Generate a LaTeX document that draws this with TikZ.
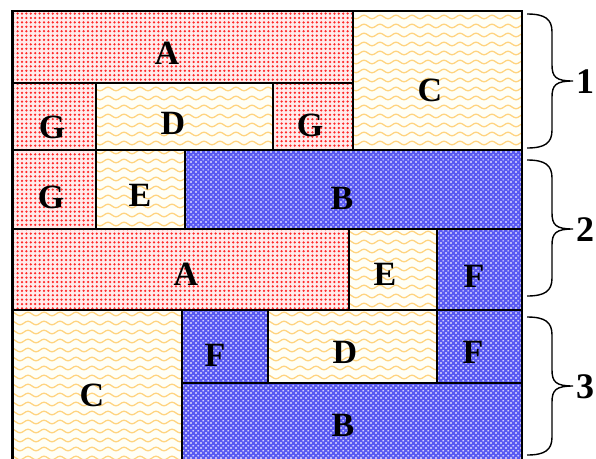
\documentclass[tikz,border=0pt]{standalone}
\usepackage{fontspec}
\setmainfont{Liberation Serif}
\usetikzlibrary{patterns.meta}
\definecolor{wavecol}{RGB}{255,212,128}
\definecolor{bluebg}{RGB}{88,88,242}
\tikzdeclarepattern{
  name=reddots, type=uncolored,
  bottom left={(-2.2pt,-2.2pt)}, top right={(2.2pt,2.2pt)},
  tile size={(4.4pt,4.4pt)},
  code={\fill (0pt,0pt) circle (1.25pt);}
}
\tikzdeclarepattern{
  name=waves, type=uncolored,
  bottom left={(-8pt,-4.5pt)}, top right={(8pt,4.5pt)},
  tile size={(16pt,9pt)},
  code={\draw[line width=1.3pt] (-8pt,0pt) sin (-4pt,1.8pt) cos (0pt,0pt) sin (4pt,-1.8pt) cos (8pt,0pt);}
}
\tikzdeclarepattern{
  name=bluecross, type=uncolored,
  bottom left={(0pt,0pt)}, top right={(5pt,5pt)},
  tile size={(5pt,5pt)},
  code={\fill (0.2pt,0.85pt) rectangle (2.3pt,1.65pt)
        (0.85pt,0.2pt) rectangle (1.65pt,2.3pt)
        (2.7pt,3.35pt) rectangle (4.8pt,4.15pt)
        (3.35pt,2.7pt) rectangle (4.15pt,4.8pt);}
}
\tikzset{
  blk/.style   ={draw=black,line width=1.6pt},
  redblk/.style={blk,preaction={fill=red!8},pattern=reddots,pattern color=red!85},
  yelblk/.style={blk,preaction={fill=yellow!3},pattern=waves,pattern color=wavecol},
  blublk/.style={blk,preaction={fill=bluebg},pattern=bluecross,pattern color=white!92!blue},
  lbl/.style   ={font=\fontsize{34}{34}\selectfont\bfseries,inner sep=0pt},
  num/.style   ={font=\fontsize{36}{36}\selectfont\bfseries,inner sep=0pt},
  brc/.style   ={line width=1.4pt},
}
\begin{document}
\begin{tikzpicture}[x=1pt,y=-1pt]
  \useasboundingbox (0,0) rectangle (596,458);
  % row 1
  \draw[redblk] (12,11) rectangle (353,83);
  \draw[yelblk] (353,11) rectangle (522,150);
  \draw[redblk] (12,83) rectangle (96,150);
  \draw[yelblk] (96,83) rectangle (273,150);
  \draw[redblk] (273,83) rectangle (353,150);
  % row 2
  \draw[redblk] (12,150) rectangle (96,229);
  \draw[yelblk] (96,150) rectangle (185,229);
  \draw[blublk] (185,150) rectangle (522,229);
  \draw[redblk] (12,229) rectangle (349,310);
  \draw[yelblk] (349,229) rectangle (437,310);
  \draw[blublk] (437,229) rectangle (522,310);
  % row 3
  \draw[yelblk] (12,310) rectangle (182,462);
  \draw[blublk] (182,310) rectangle (268,383);
  \draw[yelblk] (268,310) rectangle (437,383);
  \draw[blublk] (437,310) rectangle (522,383);
  \draw[blublk] (182,383) rectangle (522,462);
  \draw[line width=3pt] (12,10) -- (12,462);
  % labels
  \node[lbl] (a1) at (167,53)  {A};
  \node[lbl] (c1) at (430,90)  {C};
  \node[lbl] (g1) at (52,127)  {G};
  \node[lbl] (d1) at (173,123) {D};
  \node[lbl] (g2) at (310,125) {G};
  \node[lbl] (g3) at (51,197)  {G};
  \node[lbl] (e1) at (140,195) {E};
  \node[lbl] (b1) at (342,198) {B};
  \node[lbl] (a2) at (186,274) {A};
  \node[lbl] (e2) at (385,274) {E};
  \node[lbl] (f1) at (474,276) {F};
  \node[lbl] (c2) at (92,395)  {C};
  \node[lbl] (f2) at (215,355) {F};
  \node[lbl] (d2) at (345,352) {D};
  \node[lbl] (f3) at (473,352) {F};
  \node[lbl] (b2) at (343,425) {B};
  % braces
  \foreach \t/\m/\b/\n in {14/81/148/1,160/229/296/2,317/386/455/3} {
    \draw[brc] (527,\t) .. controls (545,\t) and (552,\t+5) .. (552,\t+18)
      -- (552,\m-16) .. controls (552,\m-4) and (556,\m) .. (573,\m)
      .. controls (556,\m) and (552,\m+4) .. (552,\m+16)
      -- (552,\b-18) .. controls (552,\b-5) and (545,\b) .. (527,\b);
    \node[num] (grp\n) at (585,\m+1) {\n};
  }
\end{tikzpicture}
\end{document}
